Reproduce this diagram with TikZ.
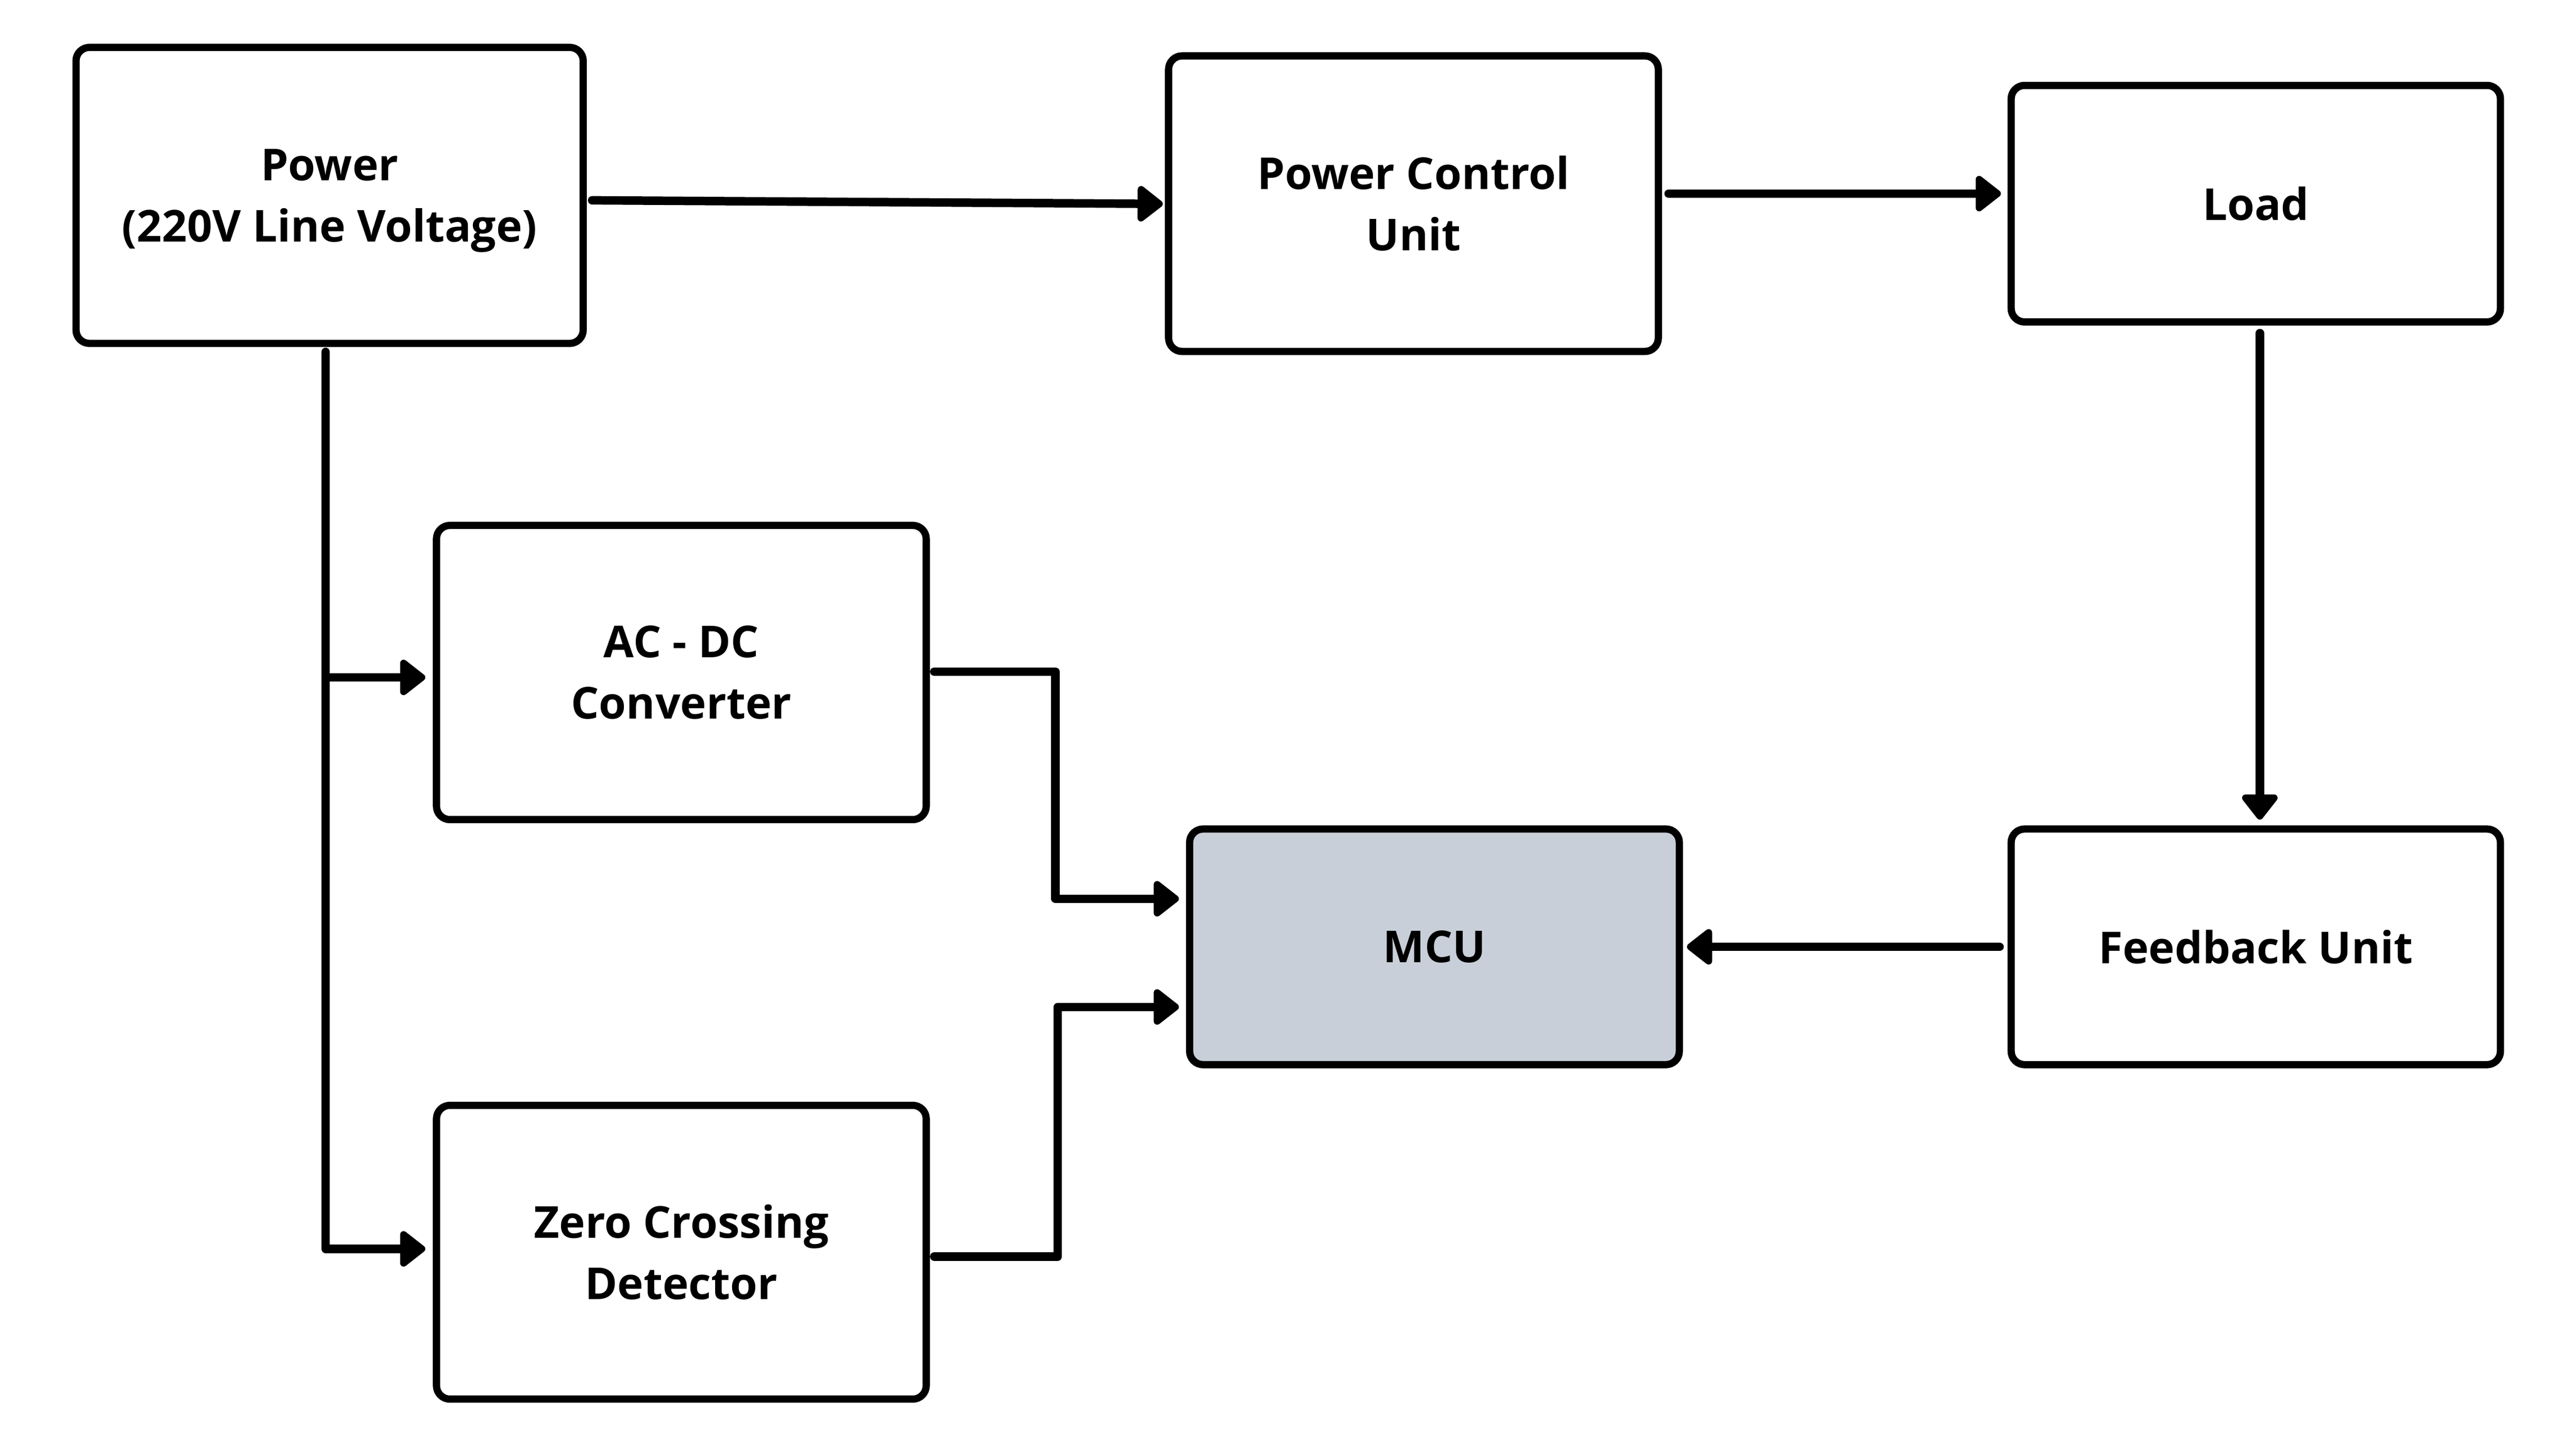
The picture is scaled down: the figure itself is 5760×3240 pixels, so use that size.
\documentclass[tikz,border=0pt]{standalone}
\usepackage{fontspec}
\setmainfont{Open Sans}
\usetikzlibrary{arrows.meta,calc}
\definecolor{mcufill}{HTML}{C8CFD8}
\tikzset{
  blk/.style={draw=black, line width=4.6pt, rounded corners=0.3cm, fill=white,
    inner sep=0pt, outer sep=0pt, align=center,
    font=\fontsize{28}{39}\selectfont\bfseries},
  conn/.style={line width=5.4pt, line cap=round, line join=round,
    -{Triangle[length=17.5pt,width=26pt,round]}}
}
\begin{document}
\begin{tikzpicture}[x=0.01cm,y=-0.01cm]
\useasboundingbox (0,0) rectangle (5760,3240);
\fill[white] (0,0) rectangle (5760,3240);
\node[blk, minimum width=1134*0.01cm, minimum height=662*0.01cm] (pow) at (737,437) {Power\\\smash{(220V Line Voltage)}};
\node[blk, minimum width=1095*0.01cm, minimum height=661*0.01cm] (pcu) at (3160.5,455.5) {Power Control\\Unit};
\node[blk, minimum width=1094*0.01cm, minimum height=529*0.01cm] (load) at (5044,455.5) {Load};
\node[blk, minimum width=1095*0.01cm, minimum height=658*0.01cm] (acdc) at (1523.5,1504) {AC - DC\\Converter};
\node[blk, fill=mcufill, minimum width=1095*0.01cm, minimum height=527*0.01cm] (mcu) at (3207.5,2117.5) {MCU};
\node[blk, minimum width=1094*0.01cm, minimum height=527*0.01cm] (fb) at (5044,2117.5) {Feedback Unit};
\node[blk, minimum width=1095*0.01cm, minimum height=657*0.01cm] (zcd) at (1523.5,2800.5) {Zero Crossing\\Detector};

\draw[conn] ($(pow.east)+(20,11)$) -- ($(pcu.west)+(-13,0.5)$);
\draw[conn] ($(pcu.east)+(23,-22.5)$) -- ($(load.west)+(-23,-22.5)$);
\draw[conn] ($(load.south)+(9,25)$) -- ($(fb.north)+(9,-21)$);
\draw[conn] ($(fb.west)+(-26,0)$) -- ($(mcu.east)+(17,0)$);

\coordinate (trtop) at ($(pow.south)+(-9,19)$);
\draw[conn] (trtop) |- ($(zcd.west)+(-25,-7.5)$);
\draw[conn] (trtop |- {$(acdc.west)+(0,11)$}) -- ($(acdc.west)+(-25,11)$);

\coordinate (j1) at ($(acdc.east)+(289,-2)$);
\draw[conn] ($(acdc.east)+(18,-2)$) -- (j1) |- ($(mcu.west)+(-24,-107.5)$);
\coordinate (j2) at ($(zcd.east)+(294,9.5)$);
\draw[conn] ($(zcd.east)+(18,9.5)$) -- (j2) |- ($(mcu.west)+(-24,134.5)$);
\end{tikzpicture}
\end{document}
